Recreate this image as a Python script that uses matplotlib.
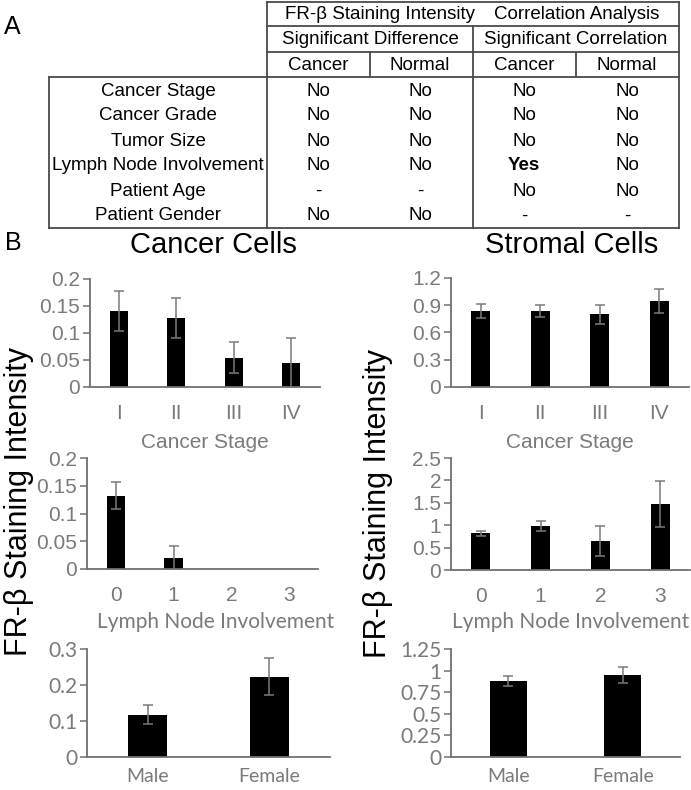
import numpy as np
import matplotlib
matplotlib.use("Agg")
import matplotlib.pyplot as plt

plt.rcParams['font.family'] = ['Liberation Sans', 'DejaVu Sans']

W, H = 691, 790

# ---- table (panel A) ----
row_labels = ["Cancer Stage", "Cancer Grade", "Tumor Size", "Lymph Node Involvement",
              "Patient Age", "Patient Gender"]
group_labels = ["FR-\u03b2 Staining Intensity", "Correlation Analysis"]
sub_labels = ["Significant Difference", "Significant Correlation"]
col_labels = ["Cancer", "Normal", "Cancer", "Normal"]
cells = [
    ["No", "No", "No", "No"],
    ["No", "No", "No", "No"],
    ["No", "No", "No", "No"],
    ["No", "No", "Yes", "No"],
    ["-", "-", "No", "No"],
    ["No", "No", "-", "-"],
]

# ---- bar data (panel B) ----
stage_labels = ["I", "II", "III", "IV"]
node_labels = ["0", "1", "2", "3"]
gender_labels = ["Male", "Female"]

cancer_stage = [0.141, 0.127, 0.054, 0.044]
cancer_stage_err = [0.037, 0.037, 0.029, 0.046]
cancer_node = [0.132, 0.020, np.nan, np.nan]
cancer_node_err = [0.024, 0.021, np.nan, np.nan]
cancer_gender = [0.118, 0.223]
cancer_gender_err = [0.026, 0.051]

stromal_stage = [0.839, 0.839, 0.799, 0.948]
stromal_stage_err = [0.075, 0.068, 0.10, 0.13]
stromal_node = [0.817, 0.98, 0.652, 1.48]
stromal_node_err = [0.05, 0.12, 0.34, 0.51]
stromal_gender = [0.882, 0.952]
stromal_gender_err = [0.055, 0.09]

fig = plt.figure(figsize=(W / 100, H / 100), dpi=100)

# overlay in pixel coordinates for table and free text
ov = fig.add_axes([0, 0, 1, 1])
ov.set_xlim(0, W)
ov.set_ylim(H, 0)
ov.axis('off')

lc = '#4a4a4a'
lw = 1.3
tfs = 13.5
# table grid
x_left, x_head, x_mid, x_right = 49, 267, 473, 679
sub_div = [370, 576]
y_top, y_r1, y_r2, y_head, y_bot = 2, 26, 52, 77, 228
for y in [y_top, y_r1, y_r2]:
    ov.plot([x_head, x_right], [y, y], color=lc, lw=lw)
for y in [y_head, y_bot]:
    ov.plot([x_left, x_right], [y, y], color=lc, lw=lw)
ov.plot([x_head, x_head], [y_top, y_bot], color=lc, lw=lw)
ov.plot([x_right, x_right], [y_top, y_bot], color=lc, lw=lw)
ov.plot([x_left, x_left], [y_head, y_bot], color=lc, lw=lw)
ov.plot([x_mid, x_mid], [y_r1, y_bot], color=lc, lw=lw)
for x in sub_div:
    ov.plot([x, x], [y_r2, y_head], color=lc, lw=lw)

col_x = [318, 420, 524, 627]
ov.text(380, 14.5, group_labels[0], ha='center', va='center', fontsize=tfs)
ov.text(577, 14.5, group_labels[1], ha='center', va='center', fontsize=tfs)
ov.text(370, 40, sub_labels[0], ha='center', va='center', fontsize=tfs)
ov.text(576, 40, sub_labels[1], ha='center', va='center', fontsize=tfs)
for x, lab in zip(col_x, col_labels):
    ov.text(x, 65.5, lab, ha='center', va='center', fontsize=tfs)
for i, (lab, row) in enumerate(zip(row_labels, cells)):
    y = 91 + i * 25
    ov.text(158, y, lab, ha='center', va='center', fontsize=tfs)
    for x, v in zip(col_x, row):
        ov.text(x, y, v, ha='center', va='center', fontsize=tfs,
                fontweight='bold' if v == "Yes" else 'normal')

ov.text(12, 27, "A", ha='center', va='center', fontsize=18)
ov.text(13, 243, "B", ha='center', va='center', fontsize=18)
ov.text(213, 245, "Cancer Cells", ha='center', va='center', fontsize=21)
ov.text(572, 245, "Stromal Cells", ha='center', va='center', fontsize=21)
ov.text(19, 502, "FR-\u03b2 Staining Intensity", ha='center', va='center',
        rotation=90, fontsize=22)
ov.text(378, 503, "FR-\u03b2 Staining Intensity", ha='center', va='center',
        rotation=90, fontsize=22)

gray = '#7a7a7a'
spine_c = '#707070'


def px_axes(l, r, t, b):
    return fig.add_axes([l / W, 1 - b / H, (r - l) / W, (b - t) / H])


def bar_panel(ax, labels, vals, errs, ymax, ystep, xlabel=None, xlab_x=0.5,
              xlab_y=-0.5, tick_font='Liberation Sans', xlab_font='Liberation Sans',
              tick_pad=12, fs=15, xfs=None):
    x = np.arange(len(labels))
    ax.bar(x, vals, width=0.32, color='black', zorder=2)
    ax.errorbar(x, vals, yerr=errs, fmt='none', ecolor=gray, elinewidth=1.1,
                capsize=3.5, capthick=1.1, zorder=3)
    ax.set_xlim(-0.5, len(labels) - 0.5)
    ax.set_ylim(0, ymax)
    ticks = np.arange(0, ymax + ystep / 2, ystep)
    ax.set_yticks(ticks)
    ax.set_yticklabels([f"{t:g}" for t in ticks], fontsize=fs, color=gray,
                       family=tick_font)
    ax.set_xticks(x)
    ax.set_xticklabels(labels, fontsize=xfs or fs, color=gray, family=tick_font)
    for s in ['top', 'right']:
        ax.spines[s].set_visible(False)
    for s in ['left', 'bottom']:
        ax.spines[s].set_color(spine_c)
        ax.spines[s].set_linewidth(1.3)
    ax.tick_params(axis='y', length=5, width=1.1, color=spine_c, pad=2)
    ax.tick_params(axis='x', length=0, pad=tick_pad)
    ax.patch.set_alpha(0)
    if xlabel:
        ax.set_xlabel(xlabel, fontsize=fs, color=gray, family=xlab_font)
        ax.xaxis.set_label_coords(xlab_x, xlab_y)
        ax.xaxis.label.set_verticalalignment('center')


ax1 = px_axes(90, 320, 279, 387)
bar_panel(ax1, stage_labels, cancer_stage, cancer_stage_err, 0.2, 0.05,
          xlabel="Cancer Stage", xlab_y=-55 / 108)
ax2 = px_axes(87, 318, 458, 569)
bar_panel(ax2, node_labels, cancer_node, cancer_node_err, 0.2, 0.05,
          xlabel="Lymph Node Involvement", xlab_x=(216 - 87) / 231, xlab_y=-53 / 111,
          xlab_font='Lato')
ax3 = px_axes(87, 330, 649, 757)
bar_panel(ax3, gender_labels, cancer_gender, cancer_gender_err, 0.3, 0.1,
          tick_font='Lato', tick_pad=8, xfs=14)

ax4 = px_axes(451, 689, 278, 387)
bar_panel(ax4, stage_labels, stromal_stage, stromal_stage_err, 1.2, 0.3,
          xlabel="Cancer Stage", xlab_y=-55 / 109)
ax5 = px_axes(451, 690, 458, 570)
bar_panel(ax5, node_labels, stromal_node, stromal_node_err, 2.5, 0.5,
          xlabel="Lymph Node Involvement", xlab_y=-52 / 112, xlab_font='Lato')
ax6 = px_axes(451, 680, 649, 757)
bar_panel(ax6, gender_labels, stromal_gender, stromal_gender_err, 1.25, 0.25,
          tick_font='Lato', tick_pad=8, xfs=14)

fig.savefig("out.png", dpi=100)
